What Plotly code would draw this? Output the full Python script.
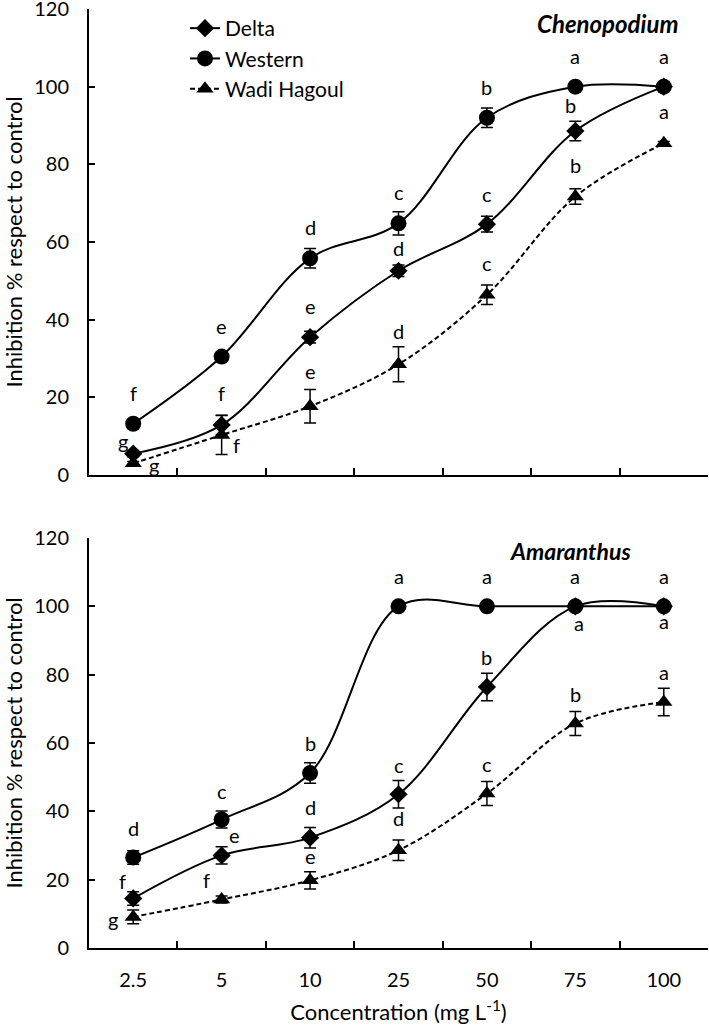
import plotly.graph_objects as go
from plotly.subplots import make_subplots

# ---------------- data ----------------
concentrations = ["2.5", "5", "10", "25", "50", "75", "100"]
series_names = ["Delta", "Western", "Wadi Hagoul"]

# Chenopodium (top panel)
cheno_delta = [5.5, 12.9, 35.5, 52.6, 64.6, 88.6, 100.0]
cheno_delta_err = [0.8, 2.5, 1.5, 1.5, 2.0, 2.5, 0.0]
cheno_western = [13.2, 30.5, 55.8, 64.8, 92.0, 100.0, 100.0]
cheno_western_err = [0.8, 0.8, 2.5, 3.0, 2.5, 0.0, 0.0]
cheno_wadi = [3.0, 10.3, 17.7, 28.5, 46.4, 71.7, 85.4]
cheno_wadi_err = [0.5, 5.0, 4.3, 4.5, 2.5, 2.0, 0.5]

cheno_delta_letters = ["g", "f", "e", "d", "c", "b", ""]
cheno_western_letters = ["f", "e", "d", "c", "b", "a", "a"]
cheno_wadi_letters = ["g", "f", "e", "d", "c", "b", "a"]

# Amaranthus (bottom panel)
amar_delta = [14.5, 27.1, 32.3, 45.0, 76.4, 100.0, 100.0]
amar_delta_err = [2.0, 2.5, 3.0, 4.0, 4.0, 0.0, 0.0]
amar_western = [26.5, 37.6, 51.2, 100.0, 100.0, 100.0, 100.0]
amar_western_err = [2.0, 2.5, 3.0, 0.0, 0.0, 0.0, 0.0]
amar_wadi = [9.1, 14.2, 19.8, 28.6, 45.2, 65.7, 72.0]
amar_wadi_err = [2.0, 1.0, 2.5, 3.0, 3.5, 3.5, 4.0]

amar_delta_letters = ["f", "e", "d", "c", "b", "a", "a"]
amar_western_letters = ["d", "c", "b", "a", "a", "a", "a"]
amar_wadi_letters = ["g", "f", "e", "d", "c", "b", "a"]

panel_titles = ["Chenopodium", "Amaranthus"]
y_title = "Inhibition % respect to control"
x_title = "Concentration (mg L<sup>-1</sup>)"

# ---------------- styles ----------------
FONT = "Lato"
styles = {
    "Delta": dict(symbol="diamond", size=14, dash="solid"),
    "Western": dict(symbol="circle", size=16, dash="solid"),
    "Wadi Hagoul": dict(symbol="triangle-up", size=15, dash="5px,3px"),
}

# label offsets (xshift, yshift) in pixels relative to each point
cheno_offsets = {
    "Delta": [(-10, 13), (0, 32), (0, 31), (0, 23), (0, 30), (-5, 26), (0, 0)],
    "Western": [(0, 31)] * 7,
    "Wadi Hagoul": [(21, -2), (15, -10), (0, 35), (0, 33), (0, 32), (0, 32), (0, 32)],
}
amar_offsets = {
    "Delta": [(-11, 17), (13, 20), (0, 31), (0, 29), (0, 30), (4, -17), (0, -15)],
    "Western": [(0, 29), (0, 29), (0, 30), (0, 30), (0, 30), (0, 30), (0, 30)],
    "Wadi Hagoul": [(-20, -2), (-15, 19), (0, 24), (0, 32), (0, 30), (0, 30), (0, 30)],
}

panels = [
    dict(row=1, data={"Delta": (cheno_delta, cheno_delta_err, cheno_delta_letters),
                      "Western": (cheno_western, cheno_western_err, cheno_western_letters),
                      "Wadi Hagoul": (cheno_wadi, cheno_wadi_err, cheno_wadi_letters)},
         offsets=cheno_offsets),
    dict(row=2, data={"Delta": (amar_delta, amar_delta_err, amar_delta_letters),
                      "Western": (amar_western, amar_western_err, amar_western_letters),
                      "Wadi Hagoul": (amar_wadi, amar_wadi_err, amar_wadi_letters)},
         offsets=amar_offsets),
]

W, H = 709, 1034
ml, mr, mt, mb = 89, 1, 9, 86
ph = H - mt - mb
pw = W - ml - mr


def px_x(x):
    return (x - ml) / pw


def px_y(y):
    return (H - mb - y) / ph


fig = make_subplots(rows=2, cols=1, vertical_spacing=0.0)

for p in panels:
    row = p["row"]
    for name in series_names:
        vals, errs, letters = p["data"][name]
        st = styles[name]
        fig.add_trace(go.Scatter(
            x=concentrations, y=vals, name=name, mode="lines+markers",
            line=dict(color="black", width=2, shape="spline", smoothing=1, dash=st["dash"]),
            marker=dict(symbol=st["symbol"], size=st["size"], color="black"),
            error_y=dict(type="data", array=errs, visible=True, color="black",
                         thickness=1.5, width=6),
            showlegend=(row == 1), legendgroup=name, cliponaxis=False,
        ), row=row, col=1)
        xref = "x" if row == 1 else "x2"
        yref = "y" if row == 1 else "y2"
        for i, (v, lab) in enumerate(zip(vals, letters)):
            if not lab:
                continue
            dx, dy = p["offsets"][name][i]
            fig.add_annotation(x=i, y=v, xref=xref, yref=yref, text=lab,
                               showarrow=False, xshift=dx, yshift=dy,
                               xanchor="center", yanchor="middle",
                               font=dict(family=FONT, size=20, color="black"))

# panel titles
fig.add_annotation(x=px_x(607), y=px_y(23), xref="paper", yref="paper",
                   xanchor="center", yanchor="middle",
                   text="<b><i>%s</i></b>" % panel_titles[0],
                   showarrow=False, font=dict(family=FONT, size=24, color="black"))
fig.add_annotation(x=px_x(570), y=px_y(551), xref="paper", yref="paper",
                   xanchor="center", yanchor="middle",
                   text="<b><i>%s</i></b>" % panel_titles[1],
                   showarrow=False, font=dict(family=FONT, size=23, color="black"))

top_dom = [px_y(475), 1.0]
bot_dom = [0.0, px_y(538)]

axis_common = dict(showline=True, linecolor="black", linewidth=2, mirror=False,
                   ticks="inside", tickcolor="black", tickwidth=1.5, showgrid=False,
                   zeroline=False, automargin=False, ticklabeloverflow="allow",
                   tickfont=dict(family=FONT, size=20, color="black"))

fig.update_xaxes(type="category", range=[-0.5, 6.5], tickson="boundaries", ticklen=7,
                 **axis_common)
fig.update_xaxes(showticklabels=False, row=1, col=1)
fig.update_xaxes(row=2, col=1, ticklabelstandoff=13,
                 title=dict(text=x_title, font=dict(family=FONT, size=22, color="black"), standoff=15))
fig.update_yaxes(range=[0, 120], dtick=20, ticklen=6, ticklabelstandoff=14, **axis_common)
fig.update_yaxes(title=dict(text=y_title, font=dict(family=FONT, size=22, color="black"), standoff=9))
fig.layout.yaxis.domain = top_dom
fig.layout.yaxis2.domain = bot_dom

fig.update_layout(
    width=W, height=H, margin=dict(l=ml, r=mr, t=mt, b=mb, autoexpand=False),
    plot_bgcolor="white", paper_bgcolor="white",
    font=dict(family=FONT, color="black"),
    legend=dict(x=px_x(185), y=px_y(8), xanchor="left", yanchor="top",
                bgcolor="rgba(0,0,0,0)", font=dict(family=FONT, size=21, color="black"),
                tracegroupgap=0),
)

fig.write_html("out.html", config={"displayModeBar": False},
               post_script="document.body.style.margin='0';")
